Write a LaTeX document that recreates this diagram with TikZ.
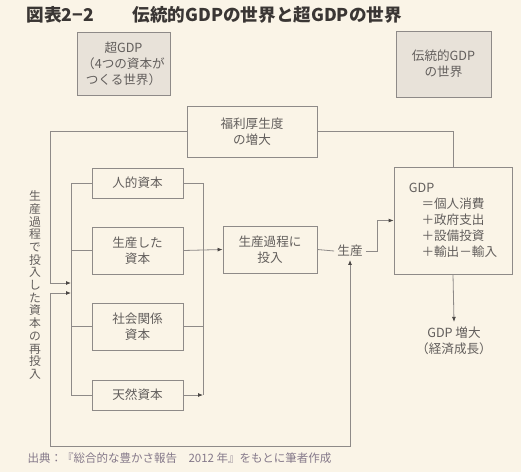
\documentclass[tikz,border=0pt]{standalone}
\usepackage{fontspec}
\setmainfont{Noto Sans CJK JP}
\usetikzlibrary{arrows.meta,positioning}
\definecolor{paper}{HTML}{FAF4E7}
\definecolor{ink}{HTML}{625E5C}
\definecolor{rule}{HTML}{8E8A88}
\definecolor{tip}{HTML}{4A4644}
\definecolor{shade}{HTML}{E8E2D9}
\definecolor{head}{HTML}{3A3634}
\definecolor{note}{HTML}{85798A}
\tikzset{box/.style={draw=rule,line width=0.8pt,align=center,text=ink,font=\fontsize{12.6}{16}\selectfont,inner sep=0pt},greybox/.style={box,fill=shade},lbl/.style={text=ink,font=\fontsize{12.6}{16}\selectfont,align=center},ln/.style={draw=rule,line width=0.8pt},arr/.style={ln,-{Latex[length=5pt,width=4pt,color=tip]}},twoarr/.style={ln,{Latex[length=5pt,width=4pt,color=tip]}-{Latex[length=5pt,width=4pt,color=tip]}}}

\begin{document}
\begin{tikzpicture}[x=1pt,y=-1pt]
\fill[paper] (0,0) rectangle (521,472);
\node[anchor=west,text=head,font=\bfseries\fontsize{17.6}{20}\selectfont] (title) at (23,15) {図表2−2\hspace{2.2em}伝統的GDPの世界と超GDPの世界};
\node[greybox,minimum width=93,minimum height=63] (super) at (123.5,63.5) {超GDP\\（4つの資本が\\つくる世界）};
\node[greybox,minimum width=95,minimum height=66] (trad) at (443.5,64) {伝統的GDP\\の世界};
\node[box,minimum width=130,minimum height=51] (welfare) at (252,131.5) {福利厚生度\\の増大};
\node[box,minimum width=91,minimum height=30] (human) at (137.5,183) {人的資本};
\node[box,minimum width=91,minimum height=47] (produced) at (137.5,250.5) {生産した\\資本};
\node[box,minimum width=91,minimum height=47] (social) at (137.5,326.5) {社会関係\\資本};
\node[box,minimum width=91,minimum height=30] (natural) at (137.5,395) {天然資本};
\node[box,minimum width=94,minimum height=47] (input) at (270,249.5) {生産過程に\\投入};
\node[lbl,inner sep=3pt] (output) at (350,251) {生産};
\node[box,minimum width=118,minimum height=107,align=left] (gdp) at (453,220.5) {GDP\\\hspace*{1em}＝個人消費\\\hspace*{1em}＋政府支出\\\hspace*{1em}＋設備投資\\\hspace*{1em}＋輸出－輸入};
\node[lbl,inner sep=5pt] (growth) at (454,341) {GDP 増大\\（経済成長）};
\node[lbl,font=\fontsize{11.8}{12.7}\selectfont] (reinvest) at (35,285) {生\\産\\過\\程\\で\\投\\入\\し\\た\\資\\本\\の\\再\\投\\入};
\node[anchor=west,text=note,font=\fontsize{11.5}{13}\selectfont] (source) at (24,458) {出典：『総合的な豊かさ報告　2012 年』をもとに筆者作成};
% buses and loops
\coordinate (in1) at (71,283);
\coordinate (in2) at (71,293);
\coordinate (loop) at (50,446);
\coordinate (rbus) at (203,395);
\draw[ln] (human.west) -| (natural.west -| in1) -- (natural.west);
\draw[ln] (produced.west) -- (produced.west -| in1);
\draw[ln] (social.west) -- (social.west -| in1);
\draw[arr] (welfare.west) -| (loop |- in1) -- (in1);
\draw[twoarr] (output.south) |- (loop) |- (in2);
\draw[ln] (human.east) -| (rbus);
\draw[ln] (social.east) -- (social.east -| rbus);
\draw[arr] (natural.east) -- (rbus);
\draw[arr] (produced.east) -- (input.west);
\draw[ln] (input.east) -- (output.west);
\draw[arr] (output.east) -- ++(12,0) |- (gdp.west);
\draw[ln] (gdp.north) |- (welfare.east);
\draw[arr] (gdp.south) -- (growth.north);
\end{tikzpicture}
\end{document}
